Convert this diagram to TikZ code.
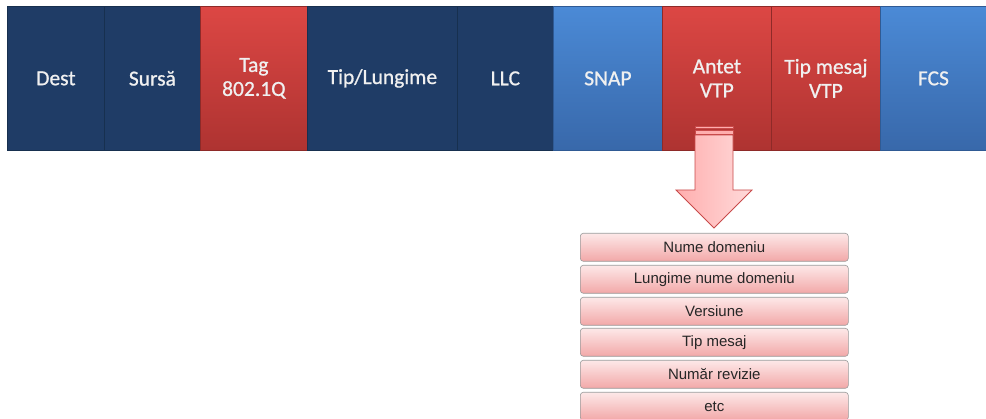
\documentclass[tikz,border=0pt]{standalone}
\usepackage{fontspec}
\setmainfont{Carlito}
\newfontfamily\semib[FakeBold=0.8]{Carlito}
\newfontfamily\arialf{Liberation Sans}
\definecolor{navyc}{HTML}{1F3C66}
\definecolor{navyd}{HTML}{17304F}
\definecolor{redt}{HTML}{DC4744}
\definecolor{redb}{HTML}{AE3331}
\definecolor{redd}{HTML}{8E2A28}
\definecolor{bluet}{HTML}{4B8AD6}
\definecolor{blueb}{HTML}{3868AA}
\definecolor{blued}{HTML}{2F5A94}
\definecolor{rowt}{HTML}{FDE8E8}
\definecolor{rowb}{HTML}{F2A8A8}
\definecolor{rowd}{HTML}{9A9A9A}
\definecolor{arrl}{HTML}{FFAEAE}
\definecolor{arrr}{HTML}{FFDADA}
\definecolor{arrd}{HTML}{C84A4A}
\begin{document}
\begin{tikzpicture}[x=1pt,y=-1pt,
  fld/.style={anchor=north west, minimum height=144pt, inner sep=0pt, text=white!94!black,
    font=\semib\fontsize{21.5}{24}\selectfont, align=center, line width=0.8pt},
  navyf/.style={fld, fill=navyc, draw=navyd},
  redf/.style={fld, top color=redt, bottom color=redb, draw=redd},
  bluef/.style={fld, top color=bluet, bottom color=blueb, draw=blued},
  rowbox/.style={anchor=north west, minimum width=268pt, minimum height=28pt, rounded corners=3pt,
    draw=rowd, top color=rowt, bottom color=rowb, font=\arialf\fontsize{15}{17}\selectfont,
    text=black!85, inner sep=0pt, line width=0.6pt},
  arrowbody/.style={draw=arrd, line width=0.8pt, left color=arrl, right color=arrr},
  stripe/.style={draw=arrd, line width=0.4pt, fill=arrl}]
\useasboundingbox (0,0) rectangle (986,419);
\fill[white] (0,0) rectangle (986,419);
% top frame fields
\node[navyf, minimum width=97pt]  (dest)  at (7,6)   {Dest};
\node[navyf, minimum width=96pt]  (sursa) at (104,6) {Sursă};
\node[redf,  minimum width=107pt] (tag)   at (200,6) {Tag\\802.1Q};
\node[navyf, minimum width=150pt] (tipl)  at (307,6) {Tip/Lungime};
\node[navyf, minimum width=96pt]  (llc)   at (457,6) {LLC};
\node[bluef, minimum width=109pt] (snap)  at (553,6) {SNAP};
\node[redf,  minimum width=109pt] (antet) at (662,6) {Antet\\VTP};
\node[redf,  minimum width=109pt] (tipm)  at (771,6) {Tip mesaj\\VTP};
\node[bluef, minimum width=106pt] (fcs)   at (880,6) {FCS};
% block arrow from Antet VTP to the header fields
\draw[arrowbody] (695,135) -- (733,135) -- (733,190) -- (752,190) -- (714,228)
  -- (676,190) -- (695,190) -- cycle;
\draw[stripe] (695,126) rectangle (733,128.5);
\draw[stripe] (695,130.5) rectangle (733,134);
% VTP header fields
\node[rowbox] (r1) at (580,233) {Nume domeniu};
\node[rowbox] (r2) at (580,265) {Lungime nume domeniu};
\node[rowbox] (r3) at (580,297) {Versiune};
\node[rowbox] (r4) at (580,328) {Tip mesaj};
\node[rowbox] (r5) at (580,360) {Număr revizie};
\node[rowbox] (r6) at (580,392) {etc};
\end{tikzpicture}
\end{document}
